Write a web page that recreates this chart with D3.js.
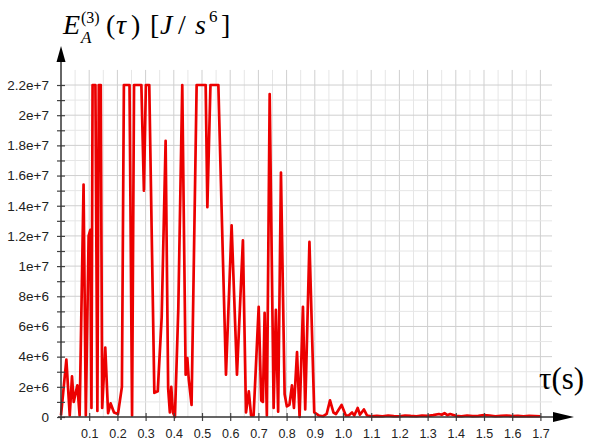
<!DOCTYPE html>
<html>
<head>
<meta charset="utf-8">
<script src="https://cdn.jsdelivr.net/npm/d3@7"></script>
<style>
  html, body { margin: 0; padding: 0; background: #fff; }
  svg { display: block; }
</style>
</head>
<body>
<svg id="chart" width="595" height="441"></svg>
<script>
// time τ (s)
const tauValues = [
  0.000, 0.019, 0.031, 0.039, 0.045, 0.058, 0.066, 0.080, 0.088, 0.098,
  0.104, 0.108, 0.112, 0.122, 0.129, 0.134, 0.141, 0.146, 0.157, 0.167,
  0.176, 0.188, 0.202, 0.216, 0.223, 0.243, 0.252, 0.259, 0.285, 0.294,
  0.301, 0.313, 0.331, 0.343, 0.357, 0.371, 0.380, 0.386, 0.391, 0.397,
  0.404, 0.416, 0.430, 0.442, 0.448, 0.453, 0.463, 0.481, 0.513, 0.519,
  0.530, 0.558, 0.585, 0.605, 0.624, 0.645, 0.656, 0.666, 0.674, 0.683,
  0.701, 0.710, 0.716, 0.722, 0.730, 0.740, 0.754, 0.762, 0.770, 0.780,
  0.793, 0.801, 0.810, 0.819, 0.826, 0.837, 0.846, 0.858, 0.866, 0.881,
  0.898, 0.914, 0.930, 0.942, 0.954, 0.966, 0.975, 0.995, 1.010, 1.020,
  1.032, 1.040, 1.052, 1.060, 1.074, 1.085, 1.100, 1.120, 1.140, 1.160,
  1.180, 1.200, 1.220, 1.240, 1.260, 1.280, 1.300, 1.320, 1.340, 1.350,
  1.360, 1.370, 1.380, 1.400, 1.420, 1.440, 1.460, 1.480, 1.500, 1.520,
  1.540, 1.560, 1.580, 1.600, 1.620, 1.640, 1.660, 1.680, 1.700
];
// E_A^(3)(τ) in J/s^6
const energyValues = [
  0.1e6, 3.8e6, 0.1e6, 2.7e6, 1.0e6, 2.1e6, 0.1e6, 15.4e6, 0.1e6, 12.0e6,
  12.4e6, 0.6e6, 22e6, 22e6, 0.4e6, 22e6, 22e6, 0.6e6, 4.6e6, 0.25e6,
  0.9e6, 0.3e6, 0.2e6, 2.0e6, 22e6, 22e6, 0.1e6, 22e6, 22e6, 15.0e6,
  22e6, 22e6, 1.6e6, 1.7e6, 6.6e6, 18.3e6, 1.9e6, 0.3e6, 2.0e6, 0.3e6,
  0.0, 7.2e6, 22e6, 2.8e6, 3.9e6, 2.5e6, 0.8e6, 22e6, 22e6, 13.9e6,
  22e6, 22e6, 2.8e6, 12.7e6, 2.8e6, 11.7e6, 0.3e6, 1.7e6, 0.1e6, 0.1e6,
  7.3e6, 1.1e6, 1.0e6, 6.9e6, 0.1e6, 21.4e6, 0.6e6, 7.1e6, 0.35e6, 16.2e6,
  1.5e6, 0.7e6, 0.8e6, 2.1e6, 0.6e6, 4.3e6, 0.0, 7.3e6, 0.5e6, 11.6e6,
  0.3e6, 0.1e6, 0.05e6, 0.2e6, 1.1e6, 0.3e6, 0.2e6, 0.8e6, 0.1e6, 0.1e6,
  0.3e6, 0.1e6, 0.6e6, 0.15e6, 0.5e6, 0.1e6, 0.05e6, 0.08e6, 0.05e6, 0.1e6,
  0.06e6, 0.05e6, 0.1e6, 0.07e6, 0.05e6, 0.1e6, 0.08e6, 0.12e6, 0.2e6, 0.15e6,
  0.25e6, 0.12e6, 0.2e6, 0.08e6, 0.05e6, 0.1e6, 0.06e6, 0.08e6, 0.12e6, 0.1e6,
  0.05e6, 0.08e6, 0.1e6, 0.06e6, 0.08e6, 0.05e6, 0.07e6, 0.06e6, 0.05e6
];
const xTickValues = [0.1,0.2,0.3,0.4,0.5,0.6,0.7,0.8,0.9,1.0,1.1,1.2,1.3,1.4,1.5,1.6,1.7];
const xTickLabels = ["0.1","0.2","0.3","0.4","0.5","0.6","0.7","0.8","0.9","1.0","1.1","1.2","1.3","1.4","1.5","1.6","1.7"];
const yTickValues = [0,2e6,4e6,6e6,8e6,10e6,12e6,14e6,16e6,18e6,20e6,22e6];
const yTickLabels = ["0","2e+6","4e+6","6e+6","8e+6","1e+7","1.2e+7","1.4e+7","1.6e+7","1.8e+7","2e+7","2.2e+7"];

const svg = d3.select("#chart");
const x0 = 61, y0 = 417;
const x = d3.scaleLinear().domain([0, 1.7]).range([x0, x0 + 1.7 * 282]);
const y = d3.scaleLinear().domain([0, 23e6]).range([y0, y0 - 23 * 15.09]);

// grid
const grid = svg.append("g");
const vGrid = d3.range(1, 35).map(i => i * 0.05);
grid.selectAll("line.v").data(vGrid).join("line")
  .attr("x1", d => x(d)).attr("x2", d => x(d))
  .attr("y1", y(23e6)).attr("y2", y0)
  .attr("stroke", (d, i) => (i % 2 === 1) ? "#cfcfcf" : "#e6e6e6")
  .attr("stroke-width", 1);
const hGrid = d3.range(1, 23).map(i => i * 1e6);
grid.selectAll("line.h").data(hGrid).join("line")
  .attr("x1", x0).attr("x2", 552)
  .attr("y1", d => y(d)).attr("y2", d => y(d))
  .attr("stroke", (d, i) => (i % 2 === 1) ? "#cfcfcf" : "#e6e6e6")
  .attr("stroke-width", 1);

// data line
const pts = tauValues.map((t, i) => [t, energyValues[i]]);
svg.append("path")
  .datum(pts)
  .attr("fill", "none")
  .attr("stroke", "#ec0000")
  .attr("stroke-width", 2.7)
  .attr("stroke-linejoin", "round")
  .attr("d", d3.line().x(d => x(d[0])).y(d => y(d[1])));

// y axis (major labeled)
const yAxis = svg.append("g").attr("transform", `translate(${x0},0)`)
  .call(d3.axisLeft(y).tickValues(yTickValues)
    .tickFormat((d, i) => yTickLabels[i]).tickSize(4).tickPadding(8));
yAxis.select(".domain").remove();
yAxis.selectAll(".tick line").attr("x1", -4).attr("x2", 4).attr("stroke", "#444").attr("stroke-width", 1.2);
yAxis.selectAll(".tick text").attr("font-family", "Arial, 'Liberation Sans', sans-serif")
  .attr("font-size", 13.5).attr("fill", "#222");
// y minor ticks
const yMinor = svg.append("g").attr("transform", `translate(${x0},0)`)
  .call(d3.axisLeft(y).tickValues(d3.range(0, 11).map(i => (2 * i + 1) * 1e6)).tickFormat("").tickSize(4));
yMinor.select(".domain").remove();
yMinor.selectAll(".tick line").attr("x1", -4).attr("x2", 4).attr("stroke", "#444").attr("stroke-width", 1.2);

// x axis
const xAxis = svg.append("g").attr("transform", `translate(0,${y0})`)
  .call(d3.axisBottom(x).tickValues(xTickValues)
    .tickFormat((d, i) => xTickLabels[i]).tickSize(4).tickPadding(8));
xAxis.select(".domain").remove();
xAxis.selectAll(".tick line").attr("y1", -4).attr("y2", 4).attr("stroke", "#444").attr("stroke-width", 1.2);
xAxis.selectAll(".tick text").attr("font-family", "Arial, 'Liberation Sans', sans-serif")
  .attr("font-size", 12.5).attr("fill", "#222");

// axis lines with arrows
svg.append("line").attr("x1", x0).attr("x2", x0).attr("y1", 60).attr("y2", y0 + 3)
  .attr("stroke", "#333").attr("stroke-width", 1.5);
svg.append("path").attr("d", `M${x0},46 L${x0 - 4.5},62 L${x0 + 4.5},62 Z`).attr("fill", "#000");
svg.append("line").attr("x1", x0 - 3).attr("x2", 556).attr("y1", y0).attr("y2", y0)
  .attr("stroke", "#333").attr("stroke-width", 1.5);
svg.append("path").attr("d", `M574,${y0} L553,${y0 - 5} L553,${y0 + 5} Z`).attr("fill", "#000");

// title pieces
const serif = "'Liberation Serif', 'Times New Roman', serif";
function piece(str, px, py, size, italic) {
  svg.append("text").attr("x", px).attr("y", py).attr("font-family", serif)
    .attr("font-size", size).attr("font-style", italic ? "italic" : "normal").text(str);
}
piece("E", 63, 34, 28, true);
piece("A", 81, 43, 17, true);
piece("(3)", 81, 23, 16, false);
piece("(", 106, 34, 28, false);
piece("τ", 116, 34, 28, true);
piece(")", 131, 34, 28, false);
piece("[", 150, 34, 28, false);
piece("J", 160, 34, 28, true);
piece("/", 178, 34, 28, false);
piece("s", 195, 34, 28, true);
piece("6", 209, 22, 17, false);
piece("]", 221, 34, 28, false);

// x-axis label
svg.append("text").attr("x", 539).attr("y", 389).attr("font-family", serif)
  .attr("font-size", 31).text("τ(s)");
</script>
</body>
</html>
